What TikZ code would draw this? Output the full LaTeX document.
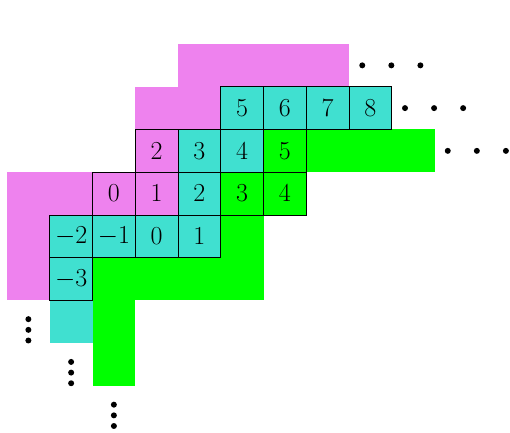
\documentclass[tikz,border=0pt]{standalone}
\usepackage{amsmath}
\definecolor{pinkc}{HTML}{EE82EE}
\definecolor{cyanc}{HTML}{40E0D0}
\definecolor{greenc}{HTML}{00FF00}
\begin{document}
\begin{tikzpicture}[x=1cm,y=1cm,
  cellbox/.style={draw=black,line width=0.6pt,minimum size=1cm,inner sep=0pt,outer sep=0pt,font=\LARGE},
  pk/.style={cellbox,fill=pinkc},
  cy/.style={cellbox,fill=cyanc},
  gr/.style={cellbox,fill=greenc},
  dotm/.style={fill=black,draw=none}]
\useasboundingbox (-0.164,1.029) rectangle (11.766,-9.099);
% unbordered fills
\fill[pinkc] (4,0) rectangle (8,-1);
\fill[pinkc] (3,-1) rectangle (5,-2);
\fill[pinkc] (0,-3) rectangle (2,-4);
\fill[pinkc] (0,-4) rectangle (1,-6);
\fill[cyanc] (1,-6) rectangle (2,-7);
\fill[greenc] (7,-2) rectangle (10,-3);
\fill[greenc] (5,-4) rectangle (6,-5);
\fill[greenc] (2,-5) rectangle (6,-6);
\fill[greenc] (2,-6) rectangle (3,-8);
% row 1
\node[cy] (a5) at (5.5,-1.5) {$5$};
\node[cy] (a6) at (6.5,-1.5) {$6$};
\node[cy] (a7) at (7.5,-1.5) {$7$};
\node[cy] (a8) at (8.5,-1.5) {$8$};
% row 2
\node[pk] (b2) at (3.5,-2.5) {$2$};
\node[cy] (b3) at (4.5,-2.5) {$3$};
\node[cy] (b4) at (5.5,-2.5) {$4$};
\node[gr] (b5) at (6.5,-2.5) {$5$};
% row 3
\node[pk] (c0) at (2.5,-3.5) {$0$};
\node[pk] (c1) at (3.5,-3.5) {$1$};
\node[cy] (c2) at (4.5,-3.5) {$2$};
\node[gr] (c3) at (5.5,-3.5) {$3$};
\node[gr] (c4) at (6.5,-3.5) {$4$};
% row 4
\node[cy] (dm2) at (1.5,-4.5) {$-2$};
\node[cy] (dm1) at (2.5,-4.5) {$-1$};
\node[cy] (d0) at (3.5,-4.5) {$0$};
\node[cy] (d1) at (4.5,-4.5) {$1$};
% row 5
\node[cy] (em3) at (1.5,-5.5) {$-3$};
% horizontal dots
\foreach \y/\x in {-0.5/8, -1.5/9, -2.5/10}{
  \foreach \d in {0.31,0.99,1.67}{
    \fill[dotm] (\x+\d,\y) circle (0.07);
  }
}
% vertical dots
\foreach \x/\y in {0.5/-6, 1.5/-7, 2.5/-8}{
  \foreach \d in {0.437,0.687,0.936}{
    \fill[dotm] (\x,\y-\d) circle (0.07);
  }
}
\end{tikzpicture}
\end{document}
